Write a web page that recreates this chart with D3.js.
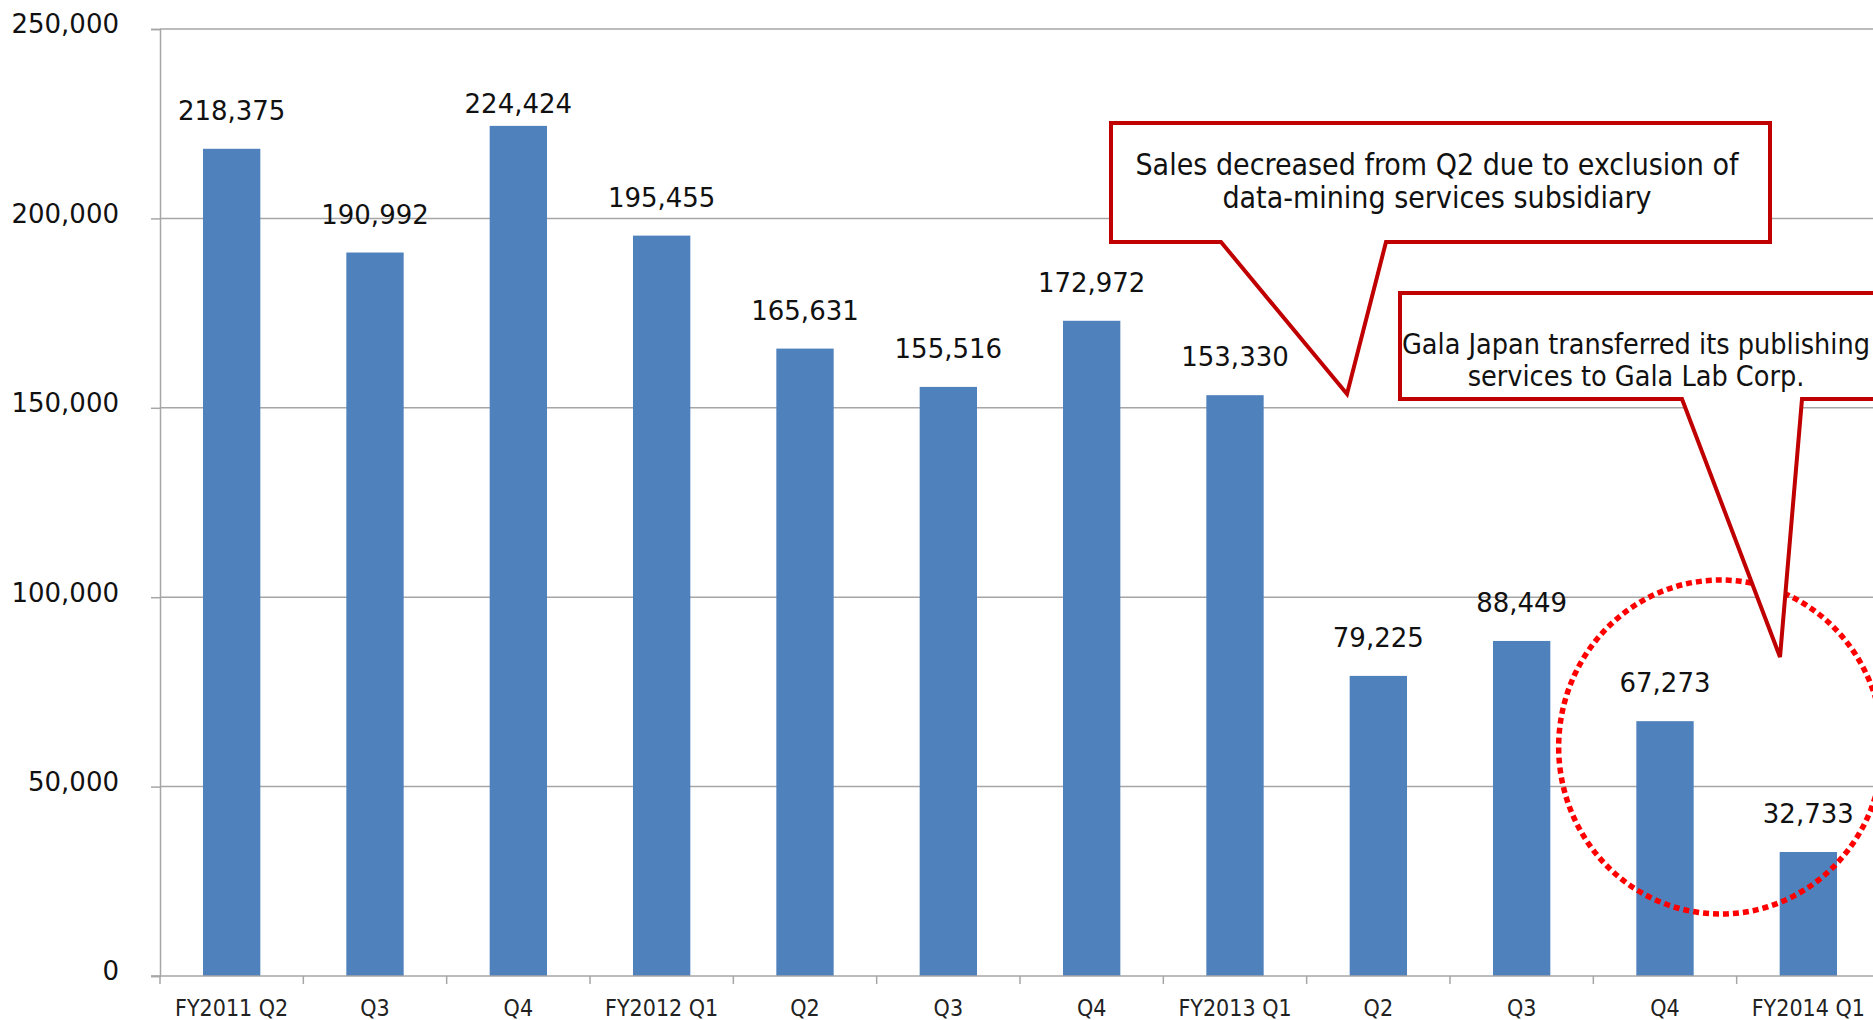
<!DOCTYPE html>
<html>
<head>
<meta charset="utf-8">
<script src="https://cdn.jsdelivr.net/npm/d3@7"></script>
<style>
  body { margin: 0; background: #fff; }
  svg { display: block; }
</style>
</head>
<body>
<div id="chart"></div>
<script>
// quarterly sales data
const quarters = ["FY2011 Q2", "Q3", "Q4", "FY2012 Q1", "Q2", "Q3", "Q4", "FY2013 Q1", "Q2", "Q3", "Q4", "FY2014 Q1"];
const sales = [218375, 190992, 224424, 195455, 165631, 155516, 172972, 153330, 79225, 88449, 67273, 32733];
const yTicks = [0, 50000, 100000, 150000, 200000, 250000];
const notes = [
  ["Sales decreased from Q2 due to exclusion of", "data-mining services subsidiary"],
  ["Gala Japan transferred its publishing", "services to Gala Lab Corp."]
];

const W = 1873, H = 1020;
const plotLeft = 160, plotRight = 1880, plotTop = 29, plotBottom = 976;

const svg = d3.select('#chart').append('svg')
  .attr("width", W)
  .attr("height", H);

const x = d3.scaleBand()
  .domain(d3.range(quarters.length))
  .range([plotLeft, plotRight]);

const y = d3.scaleLinear()
  .domain([0, 250000])
  .range([plotBottom, plotTop]);

// gridlines
svg.append("g")
  .selectAll("line")
  .data(yTicks.slice(1))
  .enter()
  .append("line")
    .attr("x1", plotLeft).attr("x2", W)
    .attr("y1", d => y(d)).attr("y2", d => y(d))
    .attr("stroke", "#a6a6a6")
    .attr("stroke-width", 1.5);

// y axis
const yAxis = svg.append("g")
  .attr("transform", "translate(" + plotLeft + ",0)")
  .call(d3.axisLeft(y).tickValues(yTicks).tickSize(9).tickPadding(32).tickFormat(d3.format(",")));
yAxis.select(".domain").attr("stroke", "#a6a6a6").attr("stroke-width", 1.5);
yAxis.selectAll(".tick line").attr("stroke", "#a6a6a6").attr("stroke-width", 1.5);
yAxis.selectAll(".tick text")
  .attr("font-family", "DejaVu Sans, Verdana, sans-serif")
  .attr("font-size", 26)
  .attr("fill", "#111")
  .attr("dy", "0.15em");

// bars
const barW = x.bandwidth() * 0.4;
svg.append("g")
  .selectAll("rect")
  .data(sales)
  .enter()
  .append("rect")
    .attr("x", (d, i) => x(i) + (x.bandwidth() - barW) / 2)
    .attr("y", d => y(d))
    .attr("width", barW)
    .attr("height", d => y(0) - y(d))
    .attr("fill", "#4f81bd");

// x axis
svg.append("line")
  .attr("x1", plotLeft - 9).attr("x2", W)
  .attr("y1", plotBottom).attr("y2", plotBottom)
  .attr("stroke", "#a6a6a6").attr("stroke-width", 1.5);
svg.append("g")
  .selectAll("line")
  .data(d3.range(quarters.length + 1))
  .enter()
  .append("line")
    .attr("x1", i => plotLeft + i * x.bandwidth()).attr("x2", i => plotLeft + i * x.bandwidth())
    .attr("y1", plotBottom).attr("y2", plotBottom + 8)
    .attr("stroke", "#a6a6a6").attr("stroke-width", 1.5);
svg.append("g")
  .selectAll("text")
  .data(quarters)
  .enter()
  .append("text")
    .attr("x", (d, i) => x(i) + x.bandwidth() / 2)
    .attr("y", 1016)
    .attr("text-anchor", "middle")
    .attr("font-family", "DejaVu Sans Condensed, DejaVu Sans, sans-serif")
    .attr("font-stretch", "condensed")
    .attr("font-size", 23)
    .attr("fill", "#222")
    .text(d => d);

// value labels (the tallest one is pushed down to stay inside the plot)
svg.append("g")
  .selectAll("text")
  .data(sales)
  .enter()
  .append("text")
    .attr("x", (d, i) => x(i) + x.bandwidth() / 2)
    .attr("y", d => Math.max(y(d) - 29, 113))
    .attr("text-anchor", "middle")
    .attr("font-family", "DejaVu Sans, Verdana, sans-serif")
    .attr("font-size", 26)
    .attr("fill", "#111")
    .text(d => d3.format(",")(d));

// dotted circle round the last two quarters
svg.append("ellipse")
  .attr("cx", x(11) - 16)
  .attr("cy", 747)
  .attr("rx", 162)
  .attr("ry", 167)
  .attr("fill", "none")
  .attr("stroke", "#ff0000")
  .attr("stroke-width", 5.5)
  .attr("stroke-dasharray", "6 4");

// callouts
function callout(pts, lines, cx, ys, size) {
  svg.append("path")
    .attr("d", d3.line()(pts) + "Z")
    .attr("fill", "#fff")
    .attr("stroke", "#c00000")
    .attr("stroke-width", 4)
    .attr("stroke-linejoin", "miter");
  svg.append("g")
    .selectAll("text")
    .data(lines)
    .enter()
    .append("text")
      .attr("x", cx)
      .attr("y", (d, i) => ys[i])
      .attr("text-anchor", "middle")
      .attr("font-family", "DejaVu Sans Condensed, DejaVu Sans, sans-serif")
      .attr("font-stretch", "condensed")
      .attr("font-size", size)
      .attr("fill", "#111")
      .text(d => d);
}

callout([[1111, 123], [1770, 123], [1770, 242], [1386, 242], [1347, 394], [1221, 242], [1111, 242]],
  notes[0], 1437, [175, 208], 30);
callout([[1400, 293], [1890, 293], [1890, 399], [1802, 399], [1780, 657], [1682, 399], [1400, 399]],
  notes[1], 1636, [354, 386], 28.5);
</script>
</body>
</html>
